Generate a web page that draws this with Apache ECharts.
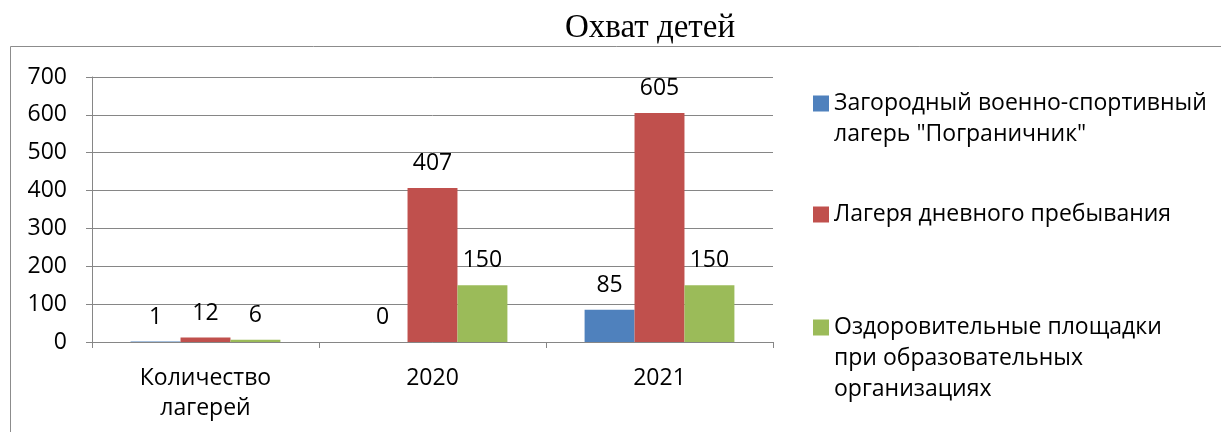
<!DOCTYPE html>
<html>
<head>
<meta charset="utf-8">
<script src="https://cdn.jsdelivr.net/npm/echarts@6/dist/echarts.min.js"></script>
<style>
  html, body { margin: 0; padding: 0; background: #fff; }
  #chart { width: 1221px; height: 432px; }
</style>
</head>
<body>
<div id="chart"></div>
<script>
// data
var categories = ['Количество\nлагерей', '2020', '2021']
var seriesNames = [
  'Загородный военно-спортивный лагерь "Пограничник"',
  'Лагеря дневного пребывания',
  'Оздоровительные площадки при образовательных организациях'
]
var legendLines = [
  'Загородный военно-спортивный\nлагерь "Пограничник"',
  'Лагеря дневного пребывания',
  'Оздоровительные площадки\nпри образовательных\nорганизациях'
]
var campValues = [1, 0, 85]
var dayValues = [12, 407, 605]
var siteValues = [6, 150, 150]
var yTicks = { min: 0, max: 700, interval: 100 }

var colors = ['#4F81BD', '#C0504D', '#9BBB59']
var font = '"Open Sans", "Noto Sans", sans-serif'
var lineH = 31
var sq = 16

var chart = echarts.init(document.getElementById('chart'))

// square sits on the first text line: pad the icon path with an empty point below
function legendFor(i, top) {
  var lines = legendLines[i].split('\n').length
  var h = sq + (lines - 1) * lineH
  var icon = 'path://M0,0H' + sq + 'V' + sq + 'H0Z M0,' + (h - 0.01) + 'H0.01V' + h + 'H0Z'
  return {
    orient: 'vertical',
    left: 808,
    top: top,
    itemWidth: sq,
    itemHeight: h,
    itemGap: 6,
    icon: lines > 1 ? icon : 'rect',
    selectedMode: false,
    formatter: function() { return legendLines[i] },
    data: [seriesNames[i]],
    textStyle: {
      fontFamily: font,
      fontSize: 23,
      lineHeight: lineH,
      color: '#000'
    }
  }
}

function barSeries(i, values) {
  return {
    name: seriesNames[i],
    type: 'bar',
    data: values,
    barGap: '0%',
    barCategoryGap: '34%',
    itemStyle: { color: colors[i] },
    label: {
      show: true,
      position: 'top',
      distance: 13,
      fontFamily: font,
      fontSize: 23,
      color: '#000'
    }
  }
}

chart.setOption({
  animation: false,
  title: {
    text: 'Охват детей',
    left: 645,
    textAlign: 'center',
    top: 7,
    textStyle: {
      fontFamily: '"Liberation Serif", "Times New Roman", serif',
      fontWeight: 'normal',
      fontSize: 33,
      color: '#000'
    }
  },
  graphic: [{
    type: 'rect',
    silent: true,
    shape: { x: 10.5, y: 46.5, width: 1300, height: 500 },
    style: { fill: 'none', stroke: '#8c8c8c', lineWidth: 1 }
  }],
  legend: [
    legendFor(0, 83),
    legendFor(1, 194),
    legendFor(2, 307)
  ],
  grid: {
    left: 92,
    right: 448,
    top: 77,
    bottom: 90,
    containLabel: false
  },
  xAxis: {
    type: 'category',
    data: categories,
    axisLine: { lineStyle: { color: '#868686' } },
    axisTick: { show: true, length: 6, lineStyle: { color: '#868686' } },
    axisLabel: {
      fontFamily: font,
      fontSize: 23,
      lineHeight: 30,
      color: '#000',
      margin: 21
    }
  },
  yAxis: {
    type: 'value',
    min: yTicks.min,
    max: yTicks.max,
    interval: yTicks.interval,
    axisLine: { show: true, lineStyle: { color: '#868686' } },
    axisTick: { show: true, length: 6, lineStyle: { color: '#868686' } },
    splitLine: { lineStyle: { color: '#868686' } },
    axisLabel: {
      fontFamily: font,
      fontSize: 23,
      color: '#000',
      margin: 25
    }
  },
  series: [
    barSeries(0, campValues),
    barSeries(1, dayValues),
    barSeries(2, siteValues)
  ]
})
</script>
</body>
</html>
